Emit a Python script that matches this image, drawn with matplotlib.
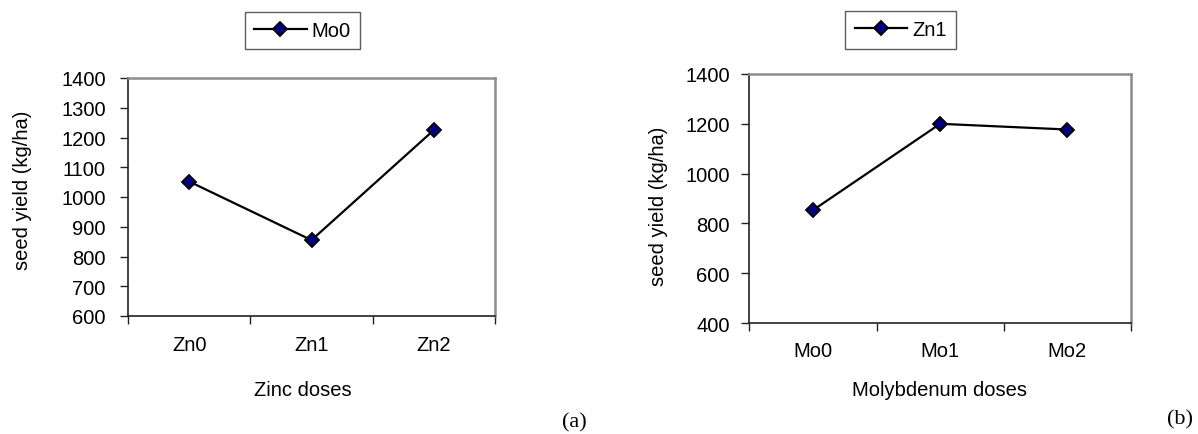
import matplotlib
matplotlib.use("Agg")
import matplotlib.pyplot as plt
from matplotlib.ticker import FixedLocator, NullFormatter

# ---- data ----
zinc_doses = ["Zn0", "Zn1", "Zn2"]
yield_mo0 = [1052, 855, 1225]
moly_doses = ["Mo0", "Mo1", "Mo2"]
yield_zn1 = [853, 1200, 1177]
left_yticks = [600, 700, 800, 900, 1000, 1100, 1200, 1300, 1400]
right_yticks = [400, 600, 800, 1000, 1200, 1400]

plt.rcParams['font.family'] = ['Liberation Sans', 'DejaVu Sans']

W, H = 1198, 435
fig = plt.figure(figsize=(W / 100, H / 100), dpi=100)

def px_axes(x0, y0, x1, y1):
    return fig.add_axes([x0 / W, 1 - y1 / H, (x1 - x0) / W, (y1 - y0) / H])

FS = 14.5

def style(ax, cats, vals, yticks, series, xlabel, ylabel, xl_coords, yl_coords,
          leg_center, ypad, xpad):
    x = list(range(len(cats)))
    ax.plot(x, vals, color='black', lw=1.6, marker='D', ms=7.5,
            markerfacecolor='#000080', markeredgecolor='black', mew=1.3,
            label=series, zorder=3, clip_on=False)
    ax.set_xlim(-0.5, len(cats) - 0.5)
    ax.set_ylim(yticks[0], yticks[-1])
    ax.set_yticks(yticks)
    ax.set_xticks(x)
    ax.set_xticklabels(cats)
    ax.xaxis.set_minor_locator(FixedLocator([i - 0.5 for i in range(len(cats) + 1)]))
    ax.xaxis.set_minor_formatter(NullFormatter())
    ax.tick_params(axis='x', which='major', length=0, pad=xpad, labelsize=FS)
    ax.tick_params(axis='x', which='minor', length=6, width=1.0, direction='out', color='#222222')
    ax.tick_params(axis='y', length=6, width=1.0, direction='out', pad=ypad, labelsize=FS, color='#222222')
    for s in ['left', 'bottom']:
        ax.spines[s].set_color('#222222')
        ax.spines[s].set_linewidth(1.2)
    for s in ['top', 'right']:
        ax.spines[s].set_color('#8c8c8c')
        ax.spines[s].set_linewidth(1.8)
    ax.set_xlabel(xlabel, fontsize=FS, va='center')
    ax.xaxis.set_label_coords(*xl_coords)
    ax.set_ylabel(ylabel, fontsize=FS, va='center')
    ax.yaxis.set_label_coords(*yl_coords)
    leg = ax.legend(loc='center', bbox_to_anchor=(leg_center[0] / W, 1 - leg_center[1] / H),
                    bbox_transform=fig.transFigure, frameon=True, fancybox=False,
                    fontsize=FS, handlelength=2.6, handletextpad=0.25, borderpad=0.45,
                    markerscale=1.0)
    leg.get_frame().set_edgecolor('#333333')
    leg.get_frame().set_linewidth(1.0)

# left chart
axL = px_axes(128, 79, 495, 317)
style(axL, zinc_doses, yield_mo0, left_yticks, "Mo0", "Zinc doses", "seed yield (kg/ha)",
      ((303 - 128) / 367, (317 - 390.7) / 238), ((22.7 - 128) / 367, (317 - 190) / 238),
      (302.5, 31.2), ypad=10, xpad=14)

# right chart
axR = px_axes(749.3, 75, 1131, 324)
style(axR, moly_doses, yield_zn1, right_yticks, "Zn1", "Molybdenum doses", "seed yield (kg/ha)",
      ((940 - 749.3) / 381.7, (324 - 390) / 249), ((658 - 749.3) / 381.7, (324 - 206.5) / 249),
      (900.5, 31.0), ypad=8, xpad=13)

fig.text(574 / W, 1 - 423 / H, "(a)", fontsize=16, family=['Liberation Serif', 'DejaVu Serif'],
         ha='center', va='center')
fig.text(1180 / W, 1 - 420 / H, "(b)", fontsize=16, family=['Liberation Serif', 'DejaVu Serif'],
         ha='center', va='center')

fig.savefig("out.png", dpi=100)
